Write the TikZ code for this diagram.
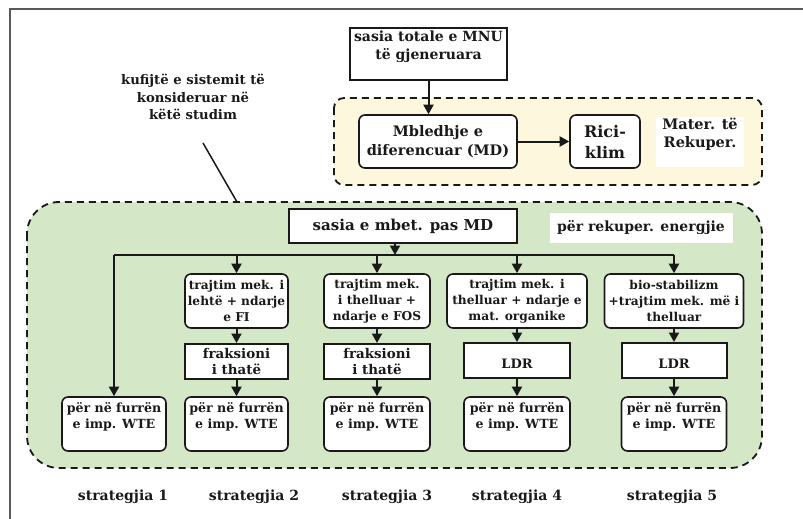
\documentclass[tikz,border=0pt]{standalone}
\usepackage{fontspec}
\setmainfont{DejaVu Serif}
\usetikzlibrary{arrows.meta}
\definecolor{grfill}{RGB}{212,232,199}
\definecolor{yefill}{RGB}{252,247,221}
\definecolor{ink}{RGB}{25,25,25}
\definecolor{framecol}{RGB}{90,90,90}
\newcommand\myfs[2]{\fontsize{#1}{#2}\selectfont\bfseries}
\begin{document}
\begin{tikzpicture}[x=1pt,y=-1pt,
  rbox/.style={draw=ink, line width=1.6pt, rounded corners=6pt, fill=white, align=center, inner sep=0pt, text=ink, font=\myfs{12.2}{16}},
  sbox/.style={draw=ink, line width=2pt, fill=white, align=center, inner sep=0pt, text=ink, font=\myfs{13.4}{16}},
  conn/.style={draw=ink, line width=2pt},
  arr/.style={conn, -{Triangle[width=10pt,length=9.5pt]}},
  region/.style={draw=ink, line width=1.8pt, dash pattern=on 7pt off 5pt},
  lbl/.style={align=center, inner sep=0pt, font=\myfs{14}{18}, text=ink},
  wte/.style={rbox, font=\myfs{12.6}{16}}
]
\useasboundingbox (0,0) rectangle (803,519);
\draw[line width=2pt, draw=framecol] (10,519) -- (10,9) -- (803,9);

% regions
\draw[region, fill=yefill, rounded corners=10pt] (334,98) rectangle (762,185);
\draw[region, fill=grfill, rounded corners=32pt] (27,202) rectangle (762,468);

% system boundary label
\node[lbl, font=\myfs{13.2}{17.5}] (kuf) at (193,97) {kufijtë e sistemit të\\konsideruar në\\këtë studim};
\coordinate (kp1) at (203,143);
\coordinate (kp2) at (237,202);
\draw[conn, line width=1.5pt] (kp1) -- (kp2);

% top part
\node[sbox, line width=2.8pt, minimum width=157pt, minimum height=52pt, font=\myfs{14}{18}] (tot) at (428.5,54) {sasia totale e MNU\\të gjeneruara\\\mbox{}};
\node[rbox, minimum width=158pt, minimum height=53pt, font=\myfs{14.5}{19}] (md) at (438,141.5) {Mbledhje e\\diferencuar (MD)};
\node[rbox, minimum width=70pt, minimum height=53pt, font=\myfs{16}{21}] (ric) at (605,141.5) {Rici-\\klim};
\node[fill=white, minimum width=88pt, minimum height=50pt, inner sep=0pt] (matbg) at (700,142) {};
\node[lbl, font=\myfs{14.5}{18}] (mat) at (700,134) {Mater. të\\Rekuper.};
\draw[arr] (tot.south) -- (tot.south |- md.north);
\draw[arr] (md) -- (ric);

% green part
\node[lbl, fill=white, minimum width=183pt, minimum height=30pt] (en) at (641,228) {për rekuper. energjie};
\node[sbox, minimum width=228pt, minimum height=34pt, font=\myfs{15}{18}] (mbet) at (403,226) {sasia e mbet. pas MD};

\coordinate (h0) at (395,255);
\coordinate (h1) at (114,255);
\coordinate (h2) at (236.5,255);
\coordinate (h3) at (377,255);
\coordinate (h4) at (517,255);
\coordinate (h5) at (674,255);

% treatment boxes
\node[rbox, minimum width=103pt, minimum height=54pt] (t2) at (236.5,301) {trajtim mek. i\\lehtë + ndarje\\e FI};
\node[rbox, minimum width=106pt, minimum height=54pt] (t3) at (377,301) {trajtim mek.\\i thelluar +\\ndarje e FOS};
\node[rbox, minimum width=140pt, minimum height=54pt] (t4) at (517,301) {trajtim mek. i\\thelluar + ndarje e\\mat. organike};
\node[rbox, minimum width=139pt, minimum height=54pt] (t5) at (674,301) {bio-stabilizm\\+trajtim mek. më i\\thelluar};

% intermediate boxes
\node[sbox, minimum width=103pt, minimum height=35pt] (f2) at (236.5,361.5) {fraksioni\\i thatë};
\node[sbox, minimum width=106pt, minimum height=35pt] (f3) at (377,361.5) {fraksioni\\i thatë};
\node[sbox, minimum width=106pt, minimum height=35pt, font=\myfs{13}{15}] (l4) at (517,360.5) {\mbox{}\\LDR};
\node[sbox, minimum width=105pt, minimum height=35pt, font=\myfs{13}{15}] (l5) at (674,360.5) {\mbox{}\\LDR};

% WTE boxes
\node[wte, minimum width=104pt, minimum height=54pt] (w1) at (114,424) {për në furrën\\e imp. WTE\\\mbox{}};
\node[wte, minimum width=103pt, minimum height=54pt] (w2) at (236.5,424) {për në furrën\\e imp. WTE\\\mbox{}};
\node[wte, minimum width=106pt, minimum height=54pt] (w3) at (377,424) {për në furrën\\e imp. WTE\\\mbox{}};
\node[wte, minimum width=106pt, minimum height=54pt] (w4) at (517,424) {për në furrën\\e imp. WTE\\\mbox{}};
\node[wte, minimum width=105pt, minimum height=54pt] (w5) at (674,424) {për në furrën\\e imp. WTE\\\mbox{}};

% connectors
\draw[arr] (mbet.south -| h0) -- (h0);
\draw[conn] (h1) -- (h5);
\draw[arr] (h1) -- (w1.north);
\draw[arr] (h2) -- (t2.north);
\draw[arr] (h3) -- (t3.north);
\draw[arr] (h4) -- (t4.north);
\draw[arr] (h5) -- (t5.north);
\draw[arr] (t2) -- (f2);
\draw[arr] (t3) -- (f3);
\draw[arr] (t4) -- (l4);
\draw[arr] (t5) -- (l5);
\draw[arr] (f2) -- (w2);
\draw[arr] (f3) -- (w3);
\draw[arr] (l4) -- (w4);
\draw[arr] (l5) -- (w5);

% strategy labels
\node[lbl] (s1) at (123,497) {strategjia 1};
\node[lbl] (s2) at (254,497) {strategjia 2};
\node[lbl] (s3) at (387,497) {strategjia 3};
\node[lbl] (s4) at (517,497) {strategjia 4};
\node[lbl] (s5) at (672,497) {strategjia 5};
\end{tikzpicture}
\end{document}
